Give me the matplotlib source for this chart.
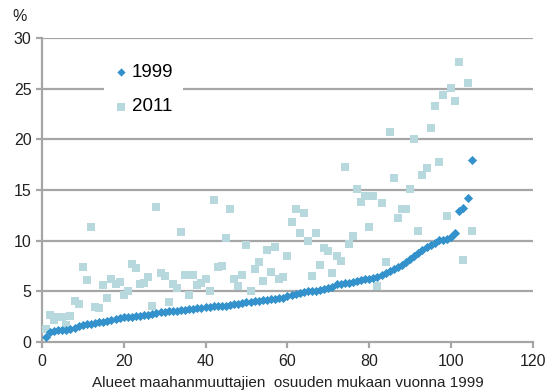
import matplotlib.pyplot as plt
import numpy as np

plt.rcParams['font.family'] = ['Liberation Sans', 'DejaVu Sans']

# Share of immigrants per area, areas ordered by their 1999 share
share_1999 = [0.45, 1.0, 1.1, 1.15, 1.2, 1.2, 1.3, 1.35, 1.6, 1.7,
              1.75, 1.8, 1.85, 1.95, 2.0, 2.1, 2.2, 2.3, 2.4, 2.45,
              2.45, 2.5, 2.55, 2.6, 2.65, 2.7, 2.8, 2.85, 2.95, 3.0,
              3.05, 3.1, 3.1, 3.15, 3.2, 3.25, 3.3, 3.35, 3.4, 3.45,
              3.5, 3.55, 3.55, 3.6, 3.6, 3.65, 3.7, 3.75, 3.8, 3.9,
              3.95, 4.0, 4.05, 4.1, 4.15, 4.2, 4.25, 4.3, 4.35, 4.5,
              4.6, 4.7, 4.8, 4.95, 5.0, 5.0, 5.05, 5.1, 5.2, 5.3,
              5.4, 5.7, 5.75, 5.8, 5.8, 5.9, 6.0, 6.1, 6.2, 6.25,
              6.3, 6.4, 6.6, 6.8, 7.0, 7.2, 7.4, 7.6, 7.9, 8.2,
              8.5, 8.8, 9.1, 9.4, 9.6, 9.8, 10.05, 10.1, 10.15, 10.4,
              10.75, 12.9, 13.25, 14.2, 18.0]

share_2011 = [1.3, 2.7, 2.2, 2.5, 2.5, 1.7, 2.6, 4.0, 3.7, 7.4,
              6.1, 11.3, 3.5, 3.4, 5.6, 4.3, 6.2, 5.7, 5.9, 4.6,
              5.0, 7.7, 7.3, 5.7, 5.8, 6.4, 3.6, 13.3, 6.8, 6.5,
              3.9, 5.7, 5.3, 10.9, 6.6, 4.6, 6.6, 5.6, 5.8, 6.2,
              5.0, 14.0, 7.4, 7.5, 10.3, 13.1, 6.2, 5.5, 6.6, 9.6,
              5.0, 7.2, 7.9, 6.0, 9.1, 6.9, 9.4, 6.2, 6.4, 8.5,
              11.8, 13.1, 10.8, 12.7, 10.0, 6.5, 10.8, 7.6, 9.3, 9.0,
              6.8, 8.5, 8.0, 17.3, 9.7, 10.5, 15.1, 13.8, 14.4, 11.3,
              14.4, 5.5, 13.7, 7.9, 20.7, 16.2, 12.2, 13.1, 13.1, 15.1,
              20.0, 11.0, 16.5, 17.2, 21.1, 23.3, 17.8, 24.4, 12.4, 25.1,
              23.8, 27.6, 8.1, 25.6, 11.0]

areas = np.arange(1, len(share_1999) + 1)

fig = plt.figure(figsize=(5.46, 3.92), dpi=100)
ax = fig.add_axes([0.0766, 0.1276, 0.8996, 0.7755])

grid_col = '#a6a6a6'
text_col = '#222222'
ax.scatter(areas, share_2011, marker='s', s=32, color='#b7d9de',
           linewidths=0, label='2011', zorder=3)
ax.scatter(areas, share_1999, marker='D', s=22, color='#3392cb',
           linewidths=0, label='1999', zorder=4)

ax.set_xlim(0, 120)
ax.set_ylim(0, 30)
ax.set_xticks(range(0, 121, 20))
ax.set_yticks(range(0, 31, 5))
for y in range(5, 31, 5):
    ax.axhline(y, color=grid_col, lw=1.6, zorder=1)

for side in ('top', 'right'):
    ax.spines[side].set_visible(False)
for side in ('left', 'bottom'):
    ax.spines[side].set_color(grid_col)
    ax.spines[side].set_linewidth(1.6)
ax.tick_params(axis='both', colors=grid_col, width=1.6, length=4,
               labelcolor=text_col, labelsize=11.5)
ax.tick_params(axis='x', pad=5)

ax.text(-0.06, 1.045, '%', transform=ax.transAxes, fontsize=11.5,
        color=text_col, ha='left', va='bottom')
ax.set_xlabel('Alueet maahanmuuttajien  osuuden mukaan vuonna 1999',
              fontsize=11, color=text_col, labelpad=5)

handles, labels = ax.get_legend_handles_labels()
leg = ax.legend(handles[::-1], labels[::-1], loc='upper left',
                bbox_to_anchor=(0.107, 0.978), frameon=True, fontsize=13.5,
                handlelength=0.8, handletextpad=0.2, labelspacing=0.95,
                borderpad=0.5, markerscale=0.9)
leg.get_frame().set_facecolor('white')
leg.get_frame().set_edgecolor('none')
leg.get_frame().set_alpha(1)
leg.set_zorder(5)

fig.savefig('out.png', dpi=100)
